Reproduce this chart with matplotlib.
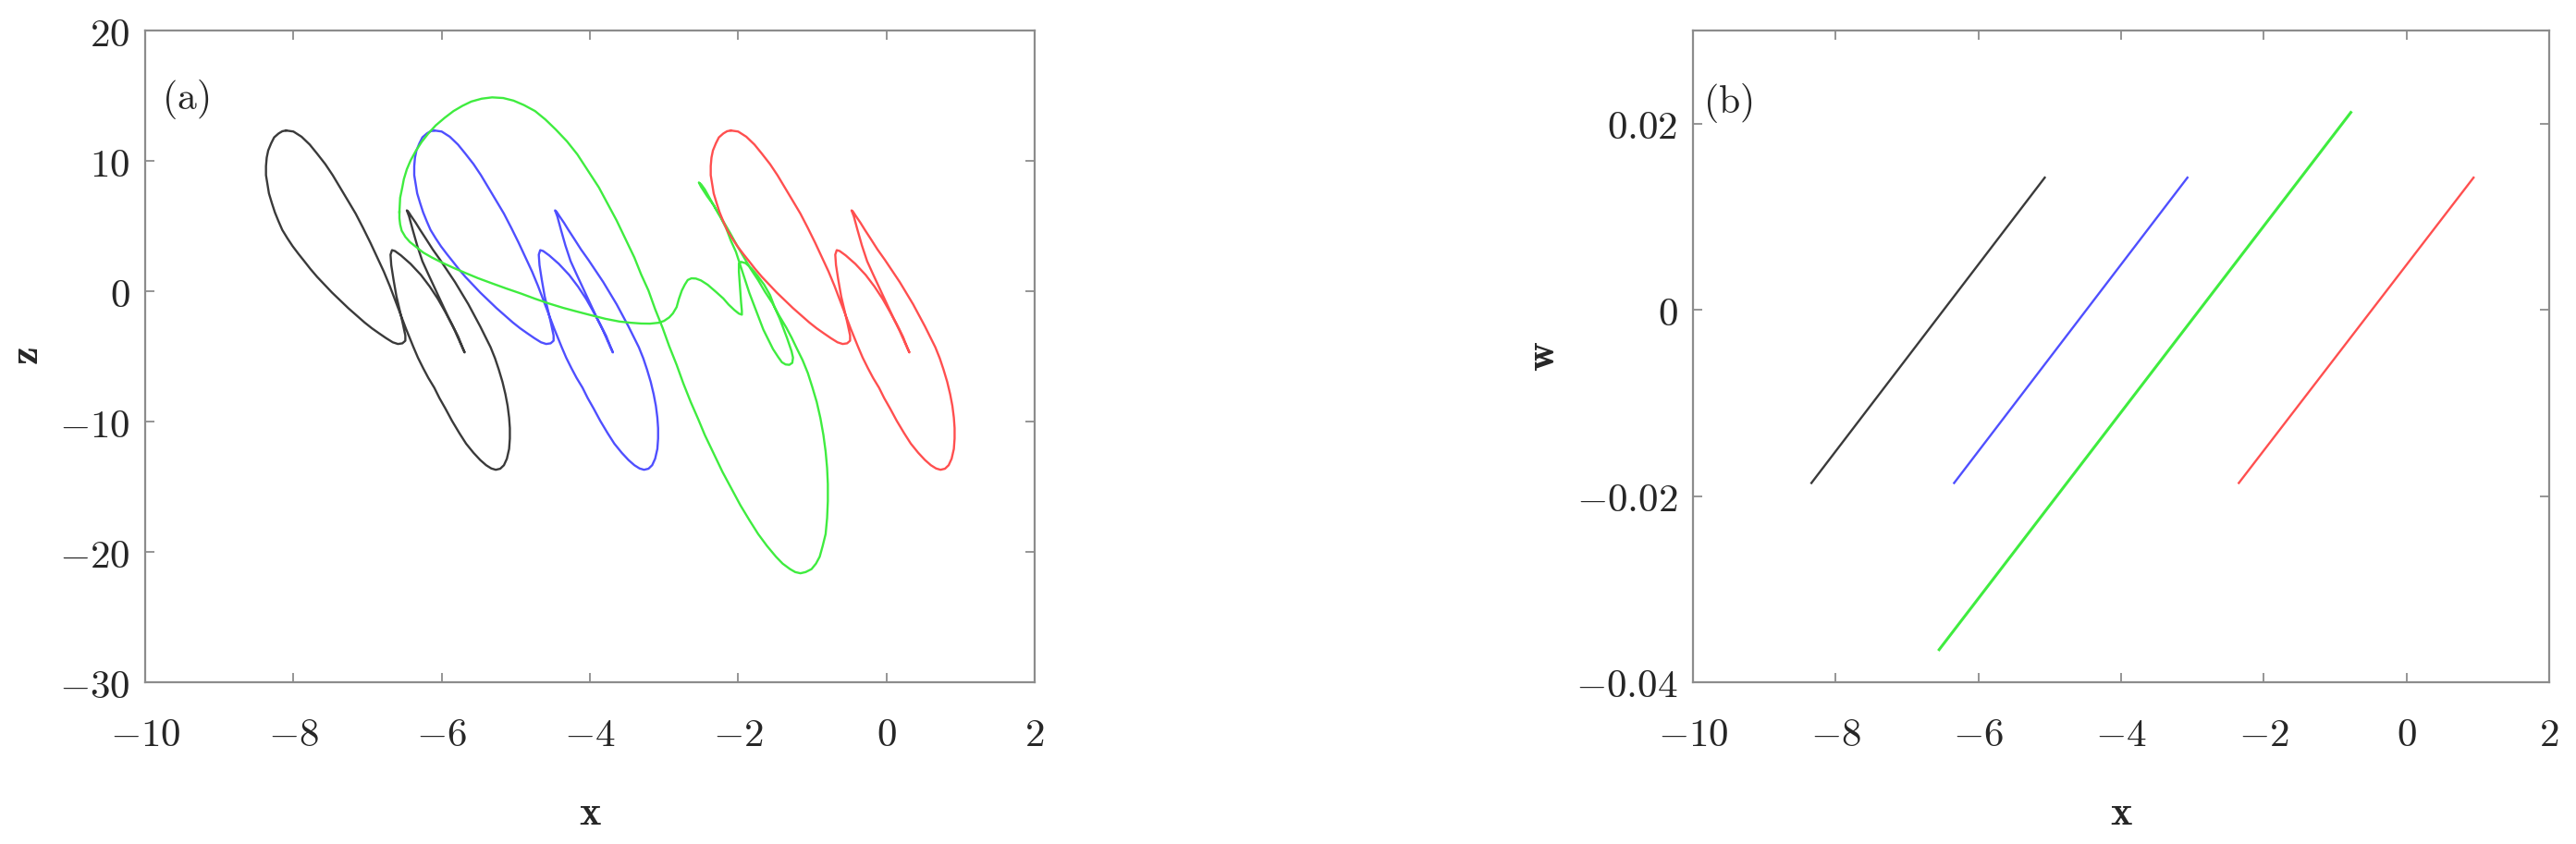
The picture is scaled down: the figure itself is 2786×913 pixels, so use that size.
import matplotlib
matplotlib.use("Agg")
import matplotlib.pyplot as plt

plt.rcParams["mathtext.fontset"] = "cm"

# ---- panel (a): x-z projections ----
# z values shared by the black / blue / red orbits (same shape, shifted in x)
z_loop = [
    12.33, 12.25, 11.85, 11.25, 10.55, 9.75, 8.90, 7.95, 7.00, 5.95,
    4.85, 3.70, 2.60, 1.50, 0.40, -0.50, -1.40, -2.15, -2.90, -3.60,
    -4.30, -5.10, -5.90, -6.65, -7.40, -8.20, -9.00, -9.95, -10.90, -11.70,
    -12.40, -12.95, -13.35, -13.60, -13.70, -13.62, -13.35, -12.85, -12.10, -11.30,
    -10.50, -9.70, -8.80, -7.90, -6.95, -6.00, -5.15, -4.30, -3.50, -2.70,
    -1.85, -1.00, -0.15, 0.70, 1.55, 2.40, 3.20, 4.00, 4.70, 5.25,
    5.75, 6.10, 6.20, 5.75, 4.70, 3.50, 2.30, 1.30, 0.20, -0.90,
    -2.00, -3.05, -3.95, -4.45, -4.70, -4.30, -3.45, -2.55, -1.60, -0.60,
    0.35, 1.25, 2.10, 2.75, 3.08, 3.15, 2.80, 2.00, 0.90, -0.40,
    -1.60, -2.60, -3.40, -3.80, -4.00, -4.05, -3.92, -3.60, -3.25, -2.85,
    -2.40, -1.90, -1.30, -0.70, -0.10, 0.50, 1.10, 1.70, 2.28, 2.85,
    3.45, 4.05, 4.70, 5.35, 6.05, 6.75, 7.50, 8.20, 8.90, 9.60,
    10.25, 10.80, 11.35, 11.80, 12.10, 12.27, 12.33,
]

black_x = [
    -8.10, -8.00, -7.89, -7.78, -7.68, -7.57, -7.47, -7.37, -7.27, -7.16,
    -7.06, -6.96, -6.87, -6.78, -6.70, -6.64, -6.58, -6.53, -6.48, -6.43,
    -6.38, -6.32, -6.25, -6.18, -6.10, -6.03, -5.95, -5.86, -5.76, -5.67,
    -5.57, -5.48, -5.40, -5.33, -5.27, -5.21, -5.16, -5.12, -5.09, -5.08,
    -5.08, -5.09, -5.11, -5.14, -5.18, -5.23, -5.28, -5.34, -5.41, -5.48,
    -5.56, -5.64, -5.73, -5.82, -5.92, -6.02, -6.12, -6.21, -6.29, -6.35,
    -6.41, -6.45, -6.47, -6.44, -6.39, -6.33, -6.26, -6.18, -6.09, -6.00,
    -5.91, -5.82, -5.75, -5.71, -5.69, -5.72, -5.78, -5.86, -5.95, -6.05,
    -6.16, -6.28, -6.42, -6.55, -6.63, -6.67, -6.69, -6.68, -6.65, -6.61,
    -6.56, -6.52, -6.49, -6.49, -6.53, -6.59, -6.66, -6.75, -6.84, -6.94,
    -7.04, -7.14, -7.26, -7.37, -7.48, -7.58, -7.68, -7.77, -7.85, -7.93,
    -8.01, -8.08, -8.15, -8.20, -8.25, -8.29, -8.33, -8.35, -8.37, -8.37,
    -8.36, -8.34, -8.30, -8.26, -8.20, -8.15, -8.10,
]

blue_x = [
    -6.10, -6.00, -5.89, -5.78, -5.68, -5.57, -5.47, -5.37, -5.27, -5.16,
    -5.06, -4.96, -4.87, -4.78, -4.70, -4.64, -4.58, -4.53, -4.48, -4.43,
    -4.38, -4.32, -4.25, -4.18, -4.10, -4.03, -3.95, -3.86, -3.76, -3.67,
    -3.57, -3.48, -3.40, -3.33, -3.27, -3.21, -3.16, -3.12, -3.09, -3.08,
    -3.08, -3.09, -3.11, -3.14, -3.18, -3.23, -3.28, -3.34, -3.41, -3.48,
    -3.56, -3.64, -3.73, -3.82, -3.92, -4.02, -4.12, -4.21, -4.29, -4.35,
    -4.41, -4.45, -4.47, -4.44, -4.39, -4.33, -4.26, -4.18, -4.09, -4.00,
    -3.91, -3.82, -3.75, -3.71, -3.69, -3.72, -3.78, -3.86, -3.95, -4.05,
    -4.16, -4.28, -4.42, -4.55, -4.63, -4.67, -4.69, -4.68, -4.65, -4.61,
    -4.56, -4.52, -4.49, -4.49, -4.53, -4.59, -4.66, -4.75, -4.84, -4.94,
    -5.04, -5.14, -5.26, -5.37, -5.48, -5.58, -5.68, -5.77, -5.85, -5.93,
    -6.01, -6.08, -6.15, -6.20, -6.25, -6.29, -6.33, -6.35, -6.37, -6.37,
    -6.36, -6.34, -6.30, -6.26, -6.20, -6.15, -6.10,
]

red_x = [
    -2.10, -2.00, -1.89, -1.78, -1.68, -1.57, -1.47, -1.37, -1.27, -1.16,
    -1.06, -0.96, -0.87, -0.78, -0.70, -0.64, -0.58, -0.53, -0.48, -0.43,
    -0.38, -0.32, -0.25, -0.18, -0.10, -0.03, 0.05, 0.14, 0.24, 0.33,
    0.43, 0.52, 0.60, 0.67, 0.73, 0.79, 0.84, 0.88, 0.91, 0.92,
    0.92, 0.91, 0.89, 0.86, 0.82, 0.77, 0.72, 0.66, 0.59, 0.52,
    0.44, 0.36, 0.27, 0.18, 0.08, -0.02, -0.12, -0.21, -0.29, -0.35,
    -0.41, -0.45, -0.47, -0.44, -0.39, -0.33, -0.26, -0.18, -0.09, 0.00,
    0.09, 0.18, 0.25, 0.29, 0.31, 0.28, 0.22, 0.14, 0.05, -0.05,
    -0.16, -0.28, -0.42, -0.55, -0.63, -0.67, -0.69, -0.68, -0.65, -0.61,
    -0.56, -0.52, -0.49, -0.49, -0.53, -0.59, -0.66, -0.75, -0.84, -0.94,
    -1.04, -1.14, -1.26, -1.37, -1.48, -1.58, -1.68, -1.77, -1.85, -1.93,
    -2.01, -2.08, -2.15, -2.20, -2.25, -2.29, -2.33, -2.35, -2.37, -2.37,
    -2.36, -2.34, -2.30, -2.26, -2.20, -2.15, -2.10,
]

green_x = [
    -6.57, -6.56, -6.53, -6.51, -6.47, -6.42, -6.35, -6.27, -6.18, -6.08,
    -5.96, -5.84, -5.72, -5.60, -5.46, -5.32, -5.17, -5.03, -4.89, -4.74,
    -4.60, -4.46, -4.31, -4.17, -4.03, -3.88, -3.76, -3.64, -3.52, -3.40,
    -3.31, -3.21, -3.12, -3.02, -2.93, -2.83, -2.74, -2.64, -2.54, -2.45,
    -2.33, -2.21, -2.09, -1.97, -1.85, -1.73, -1.61, -1.49, -1.40, -1.30,
    -1.23, -1.16, -1.09, -1.01, -0.95, -0.90, -0.86, -0.82, -0.80, -0.79,
    -0.79, -0.80, -0.82, -0.85, -0.89, -0.94, -1.00, -1.06, -1.13, -1.21,
    -1.28, -1.35, -1.45, -1.54, -1.64, -1.73, -1.83, -1.92, -2.02, -2.11,
    -2.21, -2.31, -2.38, -2.45, -2.50, -2.53, -2.50, -2.42, -2.33, -2.24,
    -2.16, -2.10, -2.03, -1.97, -1.91, -1.85, -1.78, -1.72, -1.66, -1.59,
    -1.53, -1.46, -1.41, -1.36, -1.31, -1.27, -1.26, -1.28, -1.31, -1.34,
    -1.39, -1.44, -1.51, -1.57, -1.65, -1.74, -1.82, -1.90, -1.96, -1.99,
    -1.99, -1.98, -1.97, -1.96, -1.95, -1.95, -1.99, -2.05, -2.13, -2.20,
    -2.30, -2.41, -2.50, -2.57, -2.63, -2.68, -2.72, -2.76, -2.80, -2.83,
    -2.88, -2.93, -3.00, -3.07, -3.19, -3.31, -3.45, -3.60, -3.79, -3.98,
    -4.17, -4.36, -4.55, -4.74, -4.93, -5.13, -5.32, -5.51, -5.68, -5.84,
    -5.99, -6.13, -6.25, -6.34, -6.43, -6.49, -6.54, -6.56, -6.57, -6.57,
]

green_z = [
    6.07, 7.17, 8.00, 8.60, 9.35, 10.02, 10.75, 11.45, 12.10, 12.72,
    13.30, 13.82, 14.22, 14.55, 14.77, 14.87, 14.82, 14.62, 14.28, 13.82,
    13.17, 12.40, 11.50, 10.50, 9.28, 7.97, 6.70, 5.43, 4.00, 2.58,
    1.30, 0.05, -1.38, -2.80, -4.22, -5.65, -7.07, -8.50, -9.80, -11.03,
    -12.45, -13.88, -15.15, -16.42, -17.55, -18.63, -19.55, -20.37, -20.90, -21.32,
    -21.55, -21.64, -21.55, -21.32, -20.90, -20.37, -19.55, -18.63, -17.40, -16.10,
    -14.80, -13.57, -12.30, -11.03, -9.75, -8.50, -7.35, -6.28, -5.30, -4.38,
    -3.55, -2.80, -1.85, -0.90, -0.03, 0.84, 1.70, 2.58, 3.55, 4.48,
    5.45, 6.38, 7.10, 7.81, 8.20, 8.34, 8.00, 7.30, 6.60, 5.70,
    4.81, 3.90, 3.02, 1.98, 0.93, -0.12, -1.16, -2.05, -2.95, -3.75,
    -4.44, -5.05, -5.45, -5.62, -5.65, -5.50, -5.10, -4.60, -4.10, -3.60,
    -2.85, -2.10, -1.20, -0.30, 0.50, 1.20, 1.75, 2.15, 2.25, 2.10,
    1.50, 0.70, -0.10, -0.90, -1.50, -1.80, -1.72, -1.45, -1.02, -0.56,
    -0.05, 0.49, 0.82, 0.97, 0.99, 0.86, 0.50, 0.05, -0.60, -1.22,
    -1.70, -2.01, -2.28, -2.42, -2.49, -2.48, -2.42, -2.33, -2.12, -1.85,
    -1.57, -1.28, -0.95, -0.58, -0.18, 0.21, 0.60, 1.00, 1.40, 1.79,
    2.18, 2.58, 2.97, 3.38, 3.78, 4.17, 4.65, 5.12, 5.60, 6.07,
]

# ---- panel (b): x-w projections (straight segments) ----
black_bx = [-8.34, -5.07]
blue_bx = [-6.34, -3.07]
red_bx = [-2.35, 0.94]
short_bw = [-0.0186, 0.0142]
green_bx = [-6.55, -0.78]
green_bw = [-0.0365, 0.0212]

# axis ticks
a_xticks = [-10, -8, -6, -4, -2, 0, 2]
a_zticks = [-30, -20, -10, 0, 10, 20]
b_wticks = [-0.04, -0.02, 0, 0.02]

spine_col = "#8c8c8c"
text_col = "#262626"
col_black = "#3a3a3a"
col_blue = "#4f4fff"
col_green = "#3fec3f"
col_red = "#ff4f4f"


def tick_text(v):
    return "$" + f"{v:g}" + "$"


def style_axes(ax):
    for s in ax.spines.values():
        s.set_color(spine_col)
        s.set_linewidth(1.6)
    ax.tick_params(direction="in", length=7.5, width=1.3, color=spine_col,
                   top=True, right=True, labelsize=31, labelcolor=text_col)
    ax.tick_params(axis="x", pad=26)
    ax.tick_params(axis="y", pad=12)


fig = plt.figure(figsize=(27.86, 9.13), dpi=100)
ax_a = fig.add_axes([157 / 2786, 1 - 738 / 913, 962 / 2786, 705 / 913])
ax_b = fig.add_axes([1831 / 2786, 1 - 738 / 913, 926 / 2786, 705 / 913])

# (a)
lw = 1.7
ax_a.plot(black_x, z_loop, color=col_black, lw=lw)
ax_a.plot(blue_x, z_loop, color=col_blue, lw=lw)
ax_a.plot(green_x, green_z, color=col_green, lw=lw)
ax_a.plot(red_x, z_loop, color=col_red, lw=lw)
ax_a.set_xlim(-10, 2)
ax_a.set_ylim(-30, 20)
ax_a.set_xticks(a_xticks)
ax_a.set_xticklabels([tick_text(v) for v in a_xticks])
ax_a.set_yticks(a_zticks)
ax_a.set_yticklabels([tick_text(v) for v in a_zticks])
style_axes(ax_a)
ax_a.set_xlabel(r"$\mathbf{x}$", fontsize=32, color=text_col)
ax_a.xaxis.set_label_coords(0.5, -0.20)
ax_a.xaxis.label.set_va("center")
ax_a.set_ylabel(r"$\mathbf{z}$", fontsize=32, color=text_col)
ax_a.yaxis.set_label_coords(-0.1335, 0.5)
ax_a.yaxis.label.set_va("center")
ax_a.text(0.019, 0.895, r"$\mathrm{(a)}$", transform=ax_a.transAxes,
          fontsize=30, color=text_col, ha="left", va="center")

# (b)
ax_b.plot(black_bx, short_bw, color=col_black, lw=lw)
ax_b.plot(blue_bx, short_bw, color=col_blue, lw=lw)
ax_b.plot(green_bx, green_bw, color=col_green, lw=2.2)
ax_b.plot(red_bx, short_bw, color=col_red, lw=lw)
ax_b.set_xlim(-10, 2)
ax_b.set_ylim(-0.04, 0.03)
ax_b.set_xticks(a_xticks)
ax_b.set_xticklabels([tick_text(v) for v in a_xticks])
ax_b.set_yticks(b_wticks)
ax_b.set_yticklabels([tick_text(v) for v in b_wticks])
style_axes(ax_b)
ax_b.set_xlabel(r"$\mathbf{x}$", fontsize=32, color=text_col)
ax_b.xaxis.set_label_coords(0.5, -0.20)
ax_b.xaxis.label.set_va("center")
ax_b.set_ylabel(r"$\mathbf{w}$", fontsize=32, color=text_col)
ax_b.yaxis.set_label_coords(-0.176, 0.5)
ax_b.yaxis.label.set_va("center")
ax_b.text(0.012, 0.888, r"$\mathrm{(b)}$", transform=ax_b.transAxes,
          fontsize=30, color=text_col, ha="left", va="center")

fig.savefig("out.png", dpi=100, facecolor="white")
